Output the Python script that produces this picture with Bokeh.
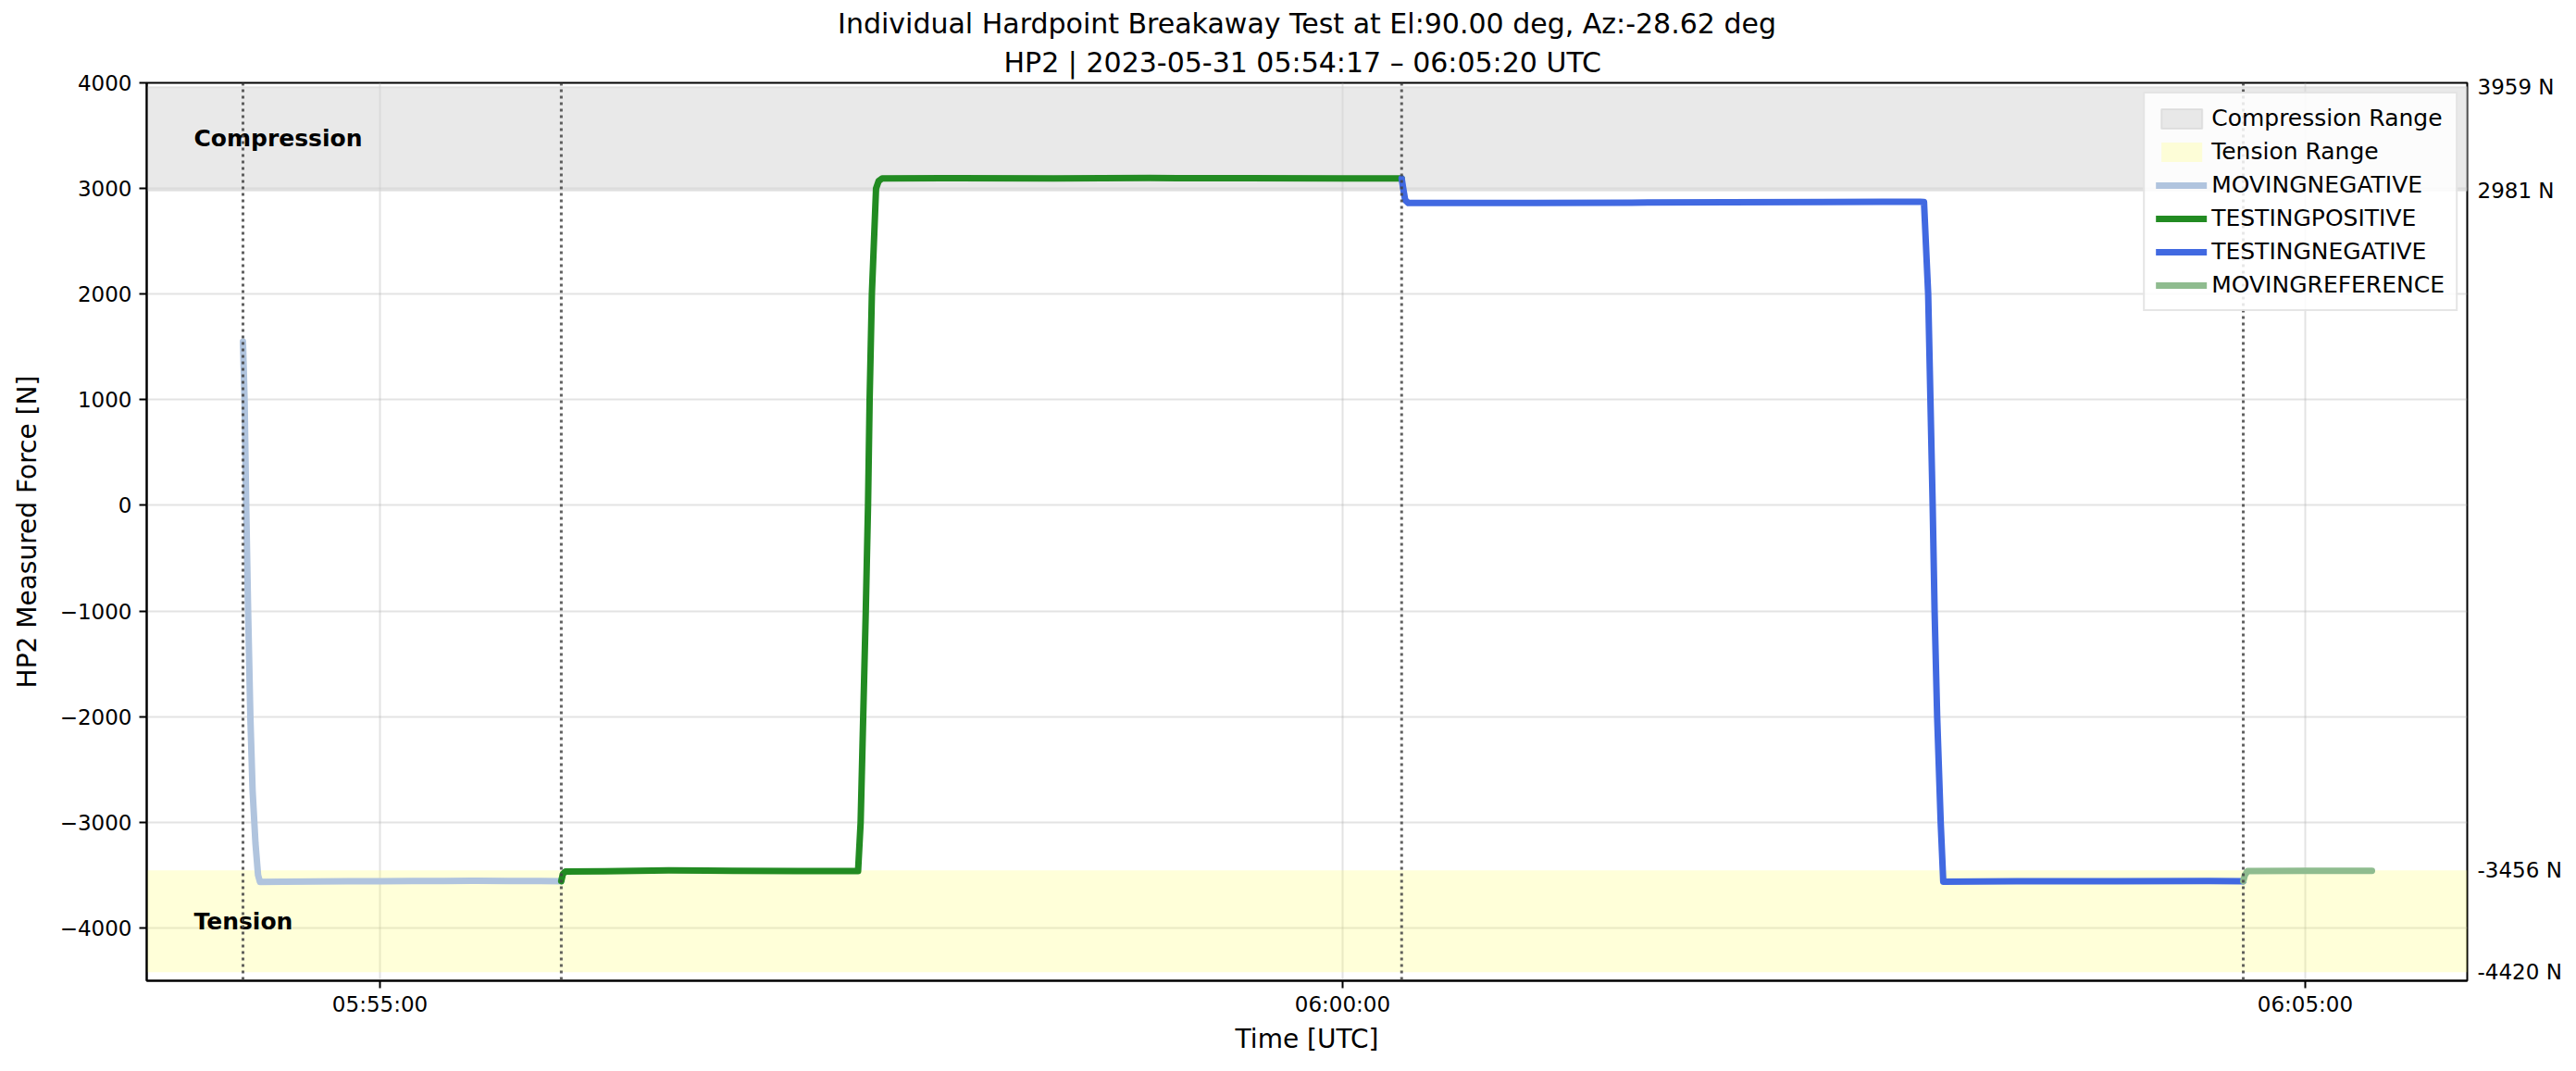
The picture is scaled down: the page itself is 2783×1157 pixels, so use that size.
import pandas as pd
from bokeh.plotting import figure
from bokeh.models import (ColumnDataSource, Range1d, FixedTicker, DatetimeTickFormatter,
                          LinearAxis, Title, Span)
from bokeh.core.properties import value
from bokeh.embed import file_html
from bokeh.resources import INLINE

DATE = "2023-05-31 "
title_line1 = "Individual Hardpoint Breakaway Test at El:90.00 deg, Az:-28.62 deg"
title_line2 = "HP2 | 2023-05-31  05:54:17 \u2013 06:05:20 UTC"
x_label = "Time [UTC]"
y_label = "HP2 Measured Force [N]"

x_limits = ["05:53:47.3", "06:05:50.5"]
y_limits = [-4500, 4000]
compression_range = [2981, 3959]
tension_range = [-4420, -3456]
right_ticks = [3959, 2981, -3456, -4420]
right_tick_labels = ["3959 N", "2981 N", "-3456 N", "-4420 N"]
y_ticks = [-4000, -3000, -2000, -1000, 0, 1000, 2000, 3000, 4000]
y_tick_labels = ["\u22124000", "\u22123000", "\u22122000", "\u22121000", "0",
                 "1000", "2000", "3000", "4000"]
x_ticks = ["05:55:00", "06:00:00", "06:05:00"]
state_change_times = ["05:54:17.3", "05:55:56.5", "06:00:18.4", "06:04:40.7"]
annot_time = "05:54:02"
annot_labels = ["Compression", "Tension"]

movneg_t = ["05:54:17.3", "05:54:17.8", "05:54:18.3", "05:54:18.9", "05:54:19.6",
            "05:54:20.3", "05:54:21.2", "05:54:22.0", "05:54:22.6", "05:54:30",
            "05:54:40", "05:54:50", "05:55:00", "05:55:10", "05:55:20", "05:55:30",
            "05:55:40", "05:55:50", "05:55:56.5"]
movneg_f = [1550, 1000, 0, -1000, -2000, -2700, -3200, -3500, -3565, -3563,
            -3560, -3558, -3557, -3555, -3556, -3553, -3555, -3556, -3557]

testpos_t = ["05:55:56.5", "05:55:57.0", "05:55:57.8", "05:56:10", "05:56:30",
             "05:56:50", "05:57:10", "05:57:29.0", "05:57:29.8", "05:57:30.6",
             "05:57:31.4", "05:57:32.1", "05:57:32.6", "05:57:33.3", "05:57:34.6",
             "05:57:35.4", "05:57:36.5", "05:58:00", "05:58:30", "05:59:00",
             "05:59:30", "06:00:00", "06:00:18.4"]
testpos_f = [-3557, -3490, -3465, -3463, -3456, -3459, -3461, -3462, -3000, -2000,
             -1000, 0, 1000, 2000, 3000, 3070, 3095, 3098, 3096, 3099, 3097, 3096, 3096]

testneg_t = ["06:00:18.4", "06:00:18.9", "06:00:19.5", "06:00:20.5", "06:01:00",
             "06:01:30", "06:02:00", "06:02:30", "06:03:00", "06:03:01.2",
             "06:03:02.5", "06:03:03.2", "06:03:03.9", "06:03:04.5", "06:03:05.3",
             "06:03:06.4", "06:03:07.2", "06:03:30", "06:04:00", "06:04:30",
             "06:04:40.7"]
testneg_f = [3096, 3000, 2890, 2862, 2864, 2866, 2870, 2872, 2874, 2872,
             2000, 1000, 0, -1000, -2000, -3000, -3562, -3559, -3557, -3556, -3557]

movref_t = ["06:04:40.7", "06:04:41.2", "06:04:42.0", "06:05:00", "06:05:20.8"]
movref_f = [-3557, -3500, -3462, -3460, -3459]

series = [
    ("MOVINGNEGATIVE", movneg_t, movneg_f, "#b0c4de"),
    ("TESTINGPOSITIVE", testpos_t, testpos_f, "#228b22"),
    ("TESTINGNEGATIVE", testneg_t, testneg_f, "#4169e1"),
    ("MOVINGREFERENCE", movref_t, movref_f, "#8fbc8f"),
]


def ts(lst):
    return pd.to_datetime([DATE + t for t in lst], format="ISO8601")


def ms(t):
    return pd.Timestamp(DATE + t).value / 1e6


FONT = "DejaVu Sans"
xl = ts(x_limits)

p = figure(width=2770, height=1141, output_backend="svg", toolbar_location=None,
           x_axis_type="datetime",
           x_range=Range1d(xl[0], xl[1]), y_range=Range1d(*y_limits),
           min_border_left=158, min_border_right=104, min_border_top=89,
           min_border_bottom=81)
p.background_fill_color = "white"
p.border_fill_color = "white"
p.outline_line_color = "black"
p.outline_line_width = 2

# two title lines: second line added first (closest to the plot)
p.add_layout(Title(text=title_line2, align="center", text_font_size="30px",
                   text_color="black", text_line_height=1.0,
                   text_font=FONT, text_font_style="normal", standoff=10), "above")
p.add_layout(Title(text=title_line1, align="center", text_font_size="30px",
                   text_color="black", text_line_height=0.85,
                   text_font=FONT, text_font_style="normal", standoff=0), "above")

# ranges
p.quad(left=[xl[0]], right=[xl[1]], bottom=[compression_range[0]], top=[compression_range[1]],
       fill_color="#d3d3d3", fill_alpha=0.5, line_color="#d3d3d3", line_alpha=0.6,
       line_width=2, legend_label="Compression Range")
p.quad(left=[xl[0]], right=[xl[1]], bottom=[tension_range[0]], top=[tension_range[1]],
       fill_color="#ffff66", fill_alpha=0.25, line_color="#ffff66", line_alpha=0.0,
       line_width=2, legend_label="Tension Range")

for name, t, f, c in series:
    src = ColumnDataSource(dict(t=ts(t), f=f))
    p.line("t", "f", source=src, line_color=c, line_width=7, line_join="round",
           line_cap="round", legend_label=name)

for t in state_change_times:
    p.add_layout(Span(location=ms(t), dimension="height", line_color="#444444",
                      line_alpha=0.85, line_width=3, line_dash="3 4"))

annot_src = ColumnDataSource(dict(
    x=ts([annot_time, annot_time]),
    y=[(compression_range[0] + compression_range[1]) / 2,
       (tension_range[0] + tension_range[1]) / 2],
    txt=annot_labels))
p.text("x", "y", text="txt", source=annot_src, text_font=value(FONT),
       text_font_style="bold", text_font_size="25px", text_baseline="middle",
       text_align="left", text_color="black")

# grid
for g in (p.xgrid, p.ygrid):
    g.grid_line_color = "#b0b0b0"
    g.grid_line_alpha = 0.35
    g.grid_line_width = 2

# x axis
xa = p.xaxis[0]
xa.ticker = FixedTicker(ticks=[ms(t) for t in x_ticks])
xa.formatter = DatetimeTickFormatter(seconds="%H:%M:%S", minsec="%H:%M:%S",
                                     minutes="%H:%M:%S", hourmin="%H:%M:%S",
                                     hours="%H:%M:%S")
xa.axis_label = x_label
p.xgrid.ticker = xa.ticker

# y axis
ya = p.yaxis[0]
ya.ticker = FixedTicker(ticks=y_ticks)
ya.major_label_overrides = {k: v for k, v in zip(y_ticks, y_tick_labels)}
ya.axis_label = y_label

for ax in (xa, ya):
    ax.axis_line_color = "black"
    ax.axis_line_width = 2
    ax.major_tick_line_width = 2
    ax.major_tick_out = 8
    ax.major_tick_in = 0
    ax.minor_tick_out = 0
    ax.minor_tick_in = 0
    ax.major_label_text_font = FONT
    ax.major_label_text_font_size = "23px"
    ax.major_label_text_color = "black"
    ax.axis_label_text_font = FONT
    ax.axis_label_text_font_size = "28px"
    ax.axis_label_text_font_style = "normal"
    ax.axis_label_text_color = "black"
xa.major_label_standoff = 4
ya.major_label_standoff = 8
xa.axis_label_standoff = 5
ya.axis_label_standoff = 16

ra = LinearAxis(ticker=FixedTicker(ticks=right_ticks),
                major_label_overrides={k: v for k, v in zip(right_ticks, right_tick_labels)})
ra.axis_line_color = None
ra.major_tick_out = 0
ra.major_tick_in = 0
ra.minor_tick_out = 0
ra.minor_tick_in = 0
ra.major_label_standoff = 11
ra.major_label_text_font = FONT
ra.major_label_text_font_size = "23px"
ra.major_label_text_color = "black"
p.add_layout(ra, "right")

lg = p.legend[0]
lg.location = "top_right"
lg.label_text_font = FONT
lg.label_text_font_size = "25px"
lg.label_text_color = "black"
lg.glyph_width = 55
lg.glyph_height = 26
lg.label_height = 26
lg.spacing = 7
lg.padding = 12
lg.margin = 10
lg.border_line_color = "#cccccc"
lg.border_line_width = 2
lg.background_fill_alpha = 0.85

open("out.html", "w").write(file_html(p, INLINE))
